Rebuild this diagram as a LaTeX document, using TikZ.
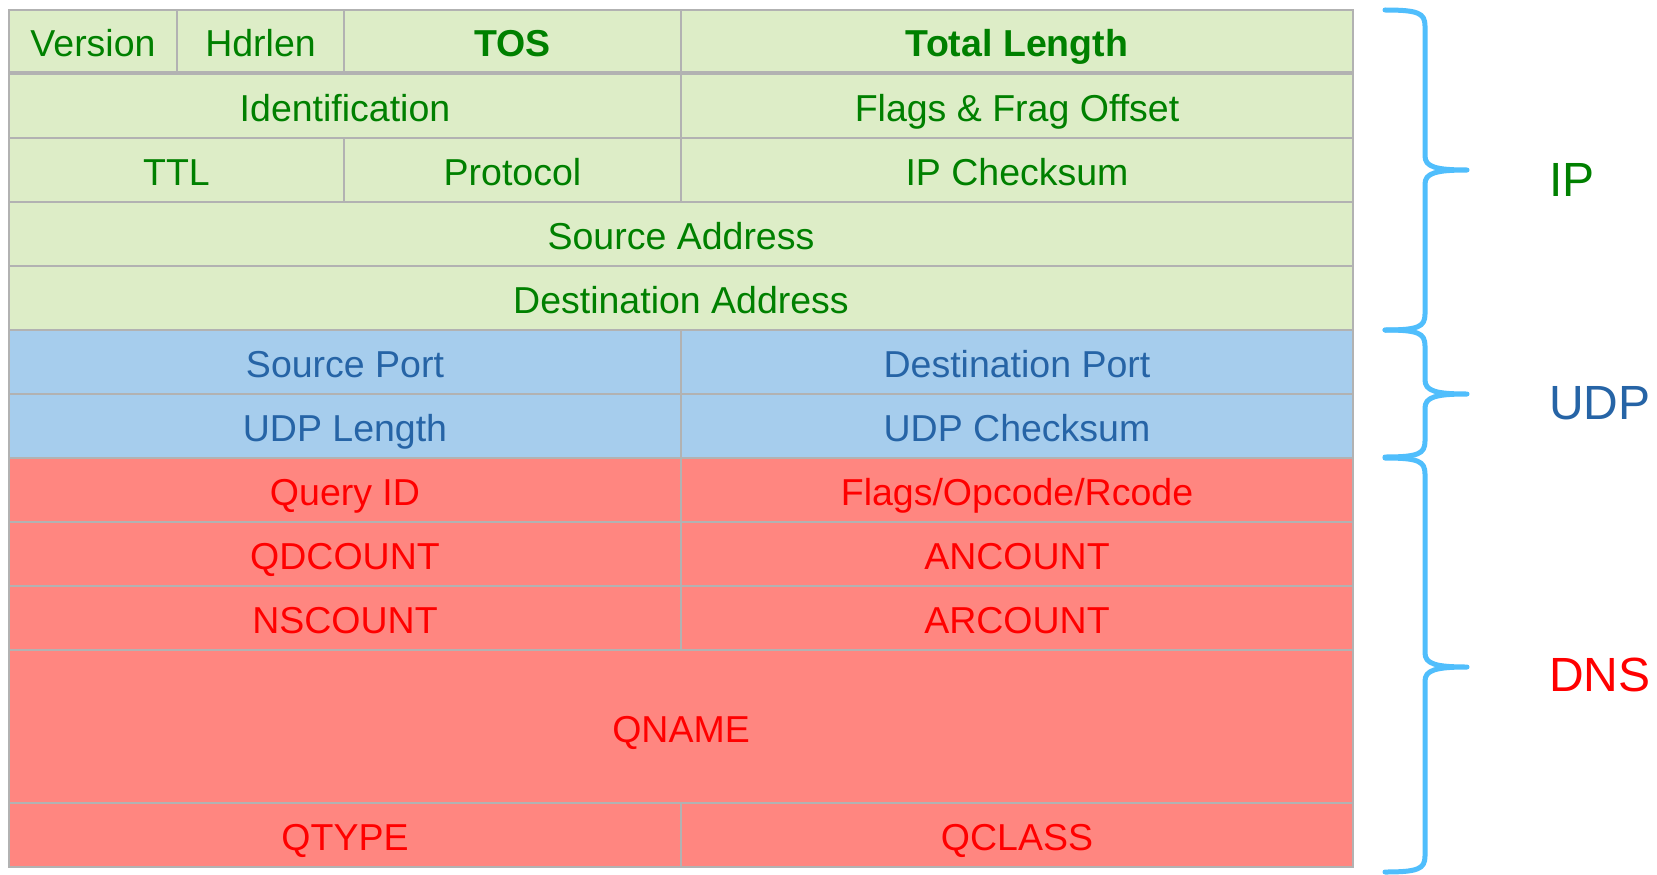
\documentclass[tikz,border=0pt]{standalone}
\usepackage{fontspec}
\setmainfont{Liberation Sans}
\definecolor{ipfill}{RGB}{221,237,199}
\definecolor{iptext}{RGB}{0,128,0}
\definecolor{udpfill}{RGB}{166,205,237}
\definecolor{udptext}{RGB}{38,100,166}
\definecolor{dnsfill}{RGB}{255,134,128}
\definecolor{dnstext}{RGB}{255,0,0}
\definecolor{gridgray}{RGB}{178,178,178}
\definecolor{bracecol}{RGB}{80,190,252}
\tikzset{
  field/.style={draw=gridgray, line width=2.5pt, inner sep=0pt, outer sep=0pt,
    font=\fontsize{37.5}{40}\selectfont, text height=31pt, text depth=0pt},
  ipcell/.style={field, fill=ipfill, text=iptext},
  udpcell/.style={field, fill=udpfill, text=udptext},
  dnscell/.style={field, fill=dnsfill, text=dnstext},
  layerbrace/.style={draw=bracecol, line width=5pt, line cap=round, line join=round},
  layerlabel/.style={anchor=west, inner sep=0pt, font=\fontsize{48}{50}\selectfont,
    text height=34.4pt, text depth=0pt},
}
% one header field: style, name, x1, y1, x2, y2, text
\newcommand\fieldcell[7]{%
  \node[#1, minimum width={#5-#3}, minimum height={#6-#4}] (#2) at ({(#3+#5)/2},{(#4+#6)/2}) {#7};}
% curly brace on the right: top, tip, bottom
\newcommand\layerbrace[3]{%
  \draw[layerbrace] (1385,#1) .. controls (1418,#1) and (1425,#1+3) .. (1425,#1+16)
    -- (1425,#2-14) .. controls (1425,#2-3) and (1436,#2) .. (1467,#2)
    .. controls (1436,#2) and (1425,#2+3) .. (1425,#2+14)
    -- (1425,#3-16) .. controls (1425,#3-3) and (1418,#3) .. (1385,#3);}
\begin{document}
\begin{tikzpicture}[x=1pt, y=-1pt]
\fill[white] (0,0) rectangle (1657,875);
\useasboundingbox (0,0) rectangle (1657,875);

% IP header
\fieldcell{ipcell}{version}{9}{10}{177}{73}{Version}
\fieldcell{ipcell}{hdrlen}{177}{10}{344}{73}{Hdrlen}
\fieldcell{ipcell}{tos}{344}{10}{681}{73}{\bfseries TOS}
\fieldcell{ipcell}{totlen}{681}{10}{1353}{73}{\bfseries Total Length}
\fieldcell{ipcell}{ident}{9}{73}{681}{138}{Identification}
\fieldcell{ipcell}{fragoff}{681}{73}{1353}{138}{Flags \& Frag Offset}
\fieldcell{ipcell}{ttl}{9}{138}{344}{202}{TTL}
\fieldcell{ipcell}{proto}{344}{138}{681}{202}{Protocol}
\fieldcell{ipcell}{ipsum}{681}{138}{1353}{202}{IP Checksum}
\fieldcell{ipcell}{srcaddr}{9}{202}{1353}{266}{Source Address}
\fieldcell{ipcell}{dstaddr}{9}{266}{1353}{330}{Destination Address}
\draw[gridgray, line width=4.5pt] (version.south west) -- (totlen.south east);

% UDP header
\fieldcell{udpcell}{sport}{9}{330}{681}{394}{Source Port}
\fieldcell{udpcell}{dport}{681}{330}{1353}{394}{Destination Port}
\fieldcell{udpcell}{udplen}{9}{394}{681}{458}{UDP Length}
\fieldcell{udpcell}{udpsum}{681}{394}{1353}{458}{UDP Checksum}

% DNS message
\fieldcell{dnscell}{qid}{9}{458}{681}{522}{Query ID}
\fieldcell{dnscell}{dflags}{681}{458}{1353}{522}{Flags/Opcode/Rcode}
\fieldcell{dnscell}{qdcount}{9}{522}{681}{586}{QDCOUNT}
\fieldcell{dnscell}{ancount}{681}{522}{1353}{586}{ANCOUNT}
\fieldcell{dnscell}{nscount}{9}{586}{681}{650}{NSCOUNT}
\fieldcell{dnscell}{arcount}{681}{586}{1353}{650}{ARCOUNT}
\fieldcell{dnscell}{qname}{9}{650}{1353}{803}{QNAME}
\fieldcell{dnscell}{qtype}{9}{803}{681}{867}{QTYPE}
\fieldcell{dnscell}{qclass}{681}{803}{1353}{867}{QCLASS}

% layer braces and labels
\layerbrace{10}{170}{330}
\layerbrace{330}{394}{457}
\layerbrace{458}{667}{872}
\node[layerlabel, text=iptext] (iplabel) at (1549,179.5) {IP};
\node[layerlabel, text=udptext] (udplabel) at (1549,402.5) {UDP};
\node[layerlabel, text=dnstext] (dnslabel) at (1549,674.5) {DNS};
\end{tikzpicture}
\end{document}
